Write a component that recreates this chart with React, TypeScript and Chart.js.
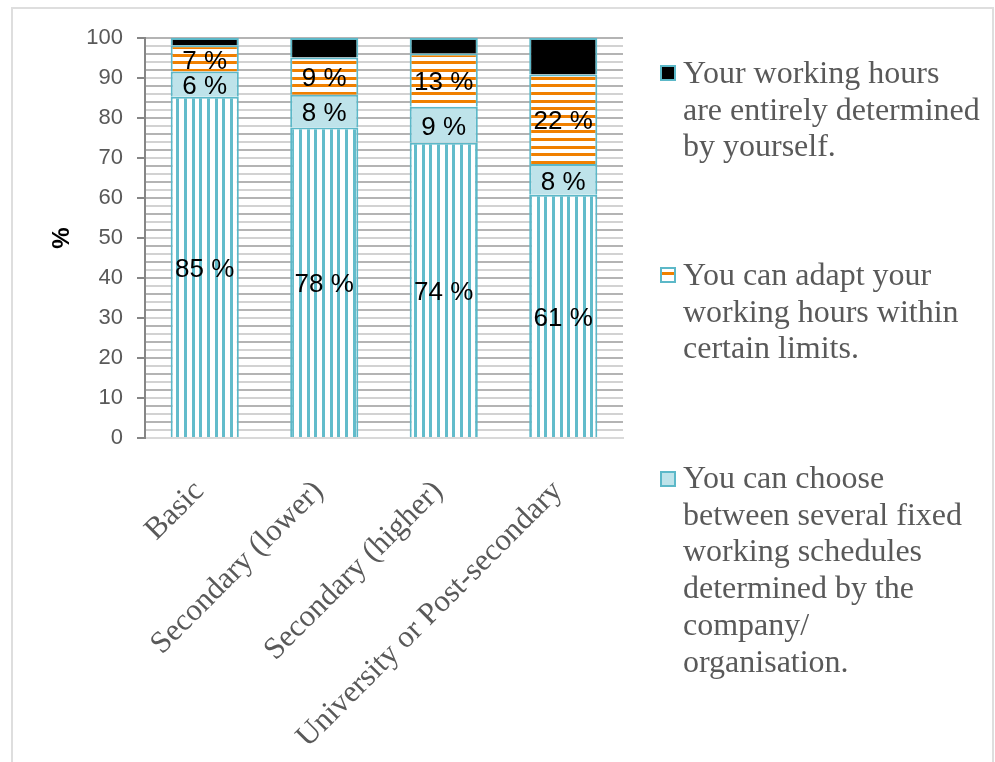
import React, { useEffect, useRef } from 'react';
import { Chart, registerables } from 'chart.js';

Chart.register(...registerables);

// ---- data ----
const categories = ['Basic', 'Secondary (lower)', 'Secondary (higher)', 'University or Post-secondary'];
const fixedHours = [85.3, 77.6, 73.8, 60.8];
const chooseSchedules = [6.3, 8.2, 9.0, 7.7];
const adaptHours = [6.6, 9.3, 13.3, 22.4];
const ownHours = [1.8, 4.9, 3.9, 9.1];
const seriesNames = [
  'Fixed working hours',
  'You can choose between several fixed working schedules determined by the company/ organisation.',
  'You can adapt your working hours within certain limits.',
  'Your working hours are entirely determined by yourself.',
];
const yMin = 0;
const yMax = 100;
const yLabelStep = 10;
const yPatternStep = 2;

const TEAL = '#62bccb';
const TEAL_BORDER = '#5cb8c8';
const ORANGE = '#f08000';
const LIGHT_BLUE = '#bee3ea';
const TEXT_GRAY = '#595959';

function stripePattern(vertical: boolean, color: string): CanvasPattern | string {
  const c = document.createElement('canvas');
  c.width = vertical ? 23 : 4;
  c.height = vertical ? 4 : 23;
  const g = c.getContext('2d');
  if (!g) return color;
  g.fillStyle = '#ffffff';
  g.fillRect(0, 0, c.width, c.height);
  g.fillStyle = color;
  [0, 8, 15].forEach((o) => {
    if (vertical) g.fillRect(o, 0, 3, c.height);
    else g.fillRect(0, o, c.width, 3);
  });
  const p = g.createPattern(c, 'repeat');
  return p || color;
}

const segLabels = {
  id: 'segLabels',
  afterDatasetsDraw(chart: any) {
    const ctx = chart.ctx;
    ctx.save();
    ctx.font = '26px "Liberation Sans", Arial, sans-serif';
    ctx.fillStyle = '#000000';
    ctx.textAlign = 'center';
    ctx.textBaseline = 'middle';
    [0, 1, 2].forEach((di) => {
      const meta = chart.getDatasetMeta(di);
      meta.data.forEach((bar: any, i: number) => {
        const v = chart.data.datasets[di].data[i] as number;
        const { x, y, base } = bar.getProps(['x', 'y', 'base'], true);
        ctx.fillText(Math.round(v) + ' %', x, (y + base) / 2 + 3);
      });
    });
    ctx.restore();
  },
};

function LegendItem(props: { top: number; markerTop: number; marker: React.ReactNode; lines: string[] }) {
  return (
    <div style={{ position: 'absolute', left: 0, top: 0 }}>
      <div style={{ position: 'absolute', left: 660, top: props.markerTop }}>{props.marker}</div>
      <div
        style={{
          position: 'absolute',
          left: 683,
          top: props.top,
          fontFamily: '"Liberation Serif", "Times New Roman", serif',
          fontSize: 32,
          lineHeight: '36.7px',
          color: TEXT_GRAY,
          whiteSpace: 'nowrap',
        }}
      >
        {props.lines.map((l, i) => (
          <div key={i}>{l}</div>
        ))}
      </div>
    </div>
  );
}

export default function App() {
  const ref = useRef<HTMLCanvasElement>(null);

  useEffect(() => {
    document.body.style.overflow = 'hidden';
    const canvas = ref.current;
    if (!canvas) return;
    const vStripes = stripePattern(true, TEAL);
    const hStripes = stripePattern(false, ORANGE);
    const chart = new Chart(canvas, {
      type: 'bar',
      data: {
        labels: categories,
        datasets: [
          { label: seriesNames[0], data: fixedHours, backgroundColor: vStripes as any, borderColor: TEAL_BORDER, borderWidth: 2 },
          { label: seriesNames[1], data: chooseSchedules, backgroundColor: LIGHT_BLUE, borderColor: TEAL_BORDER, borderWidth: 2 },
          { label: seriesNames[2], data: adaptHours, backgroundColor: hStripes as any, borderColor: TEAL_BORDER, borderWidth: 2 },
          { label: seriesNames[3], data: ownHours, backgroundColor: '#000000', borderColor: TEAL_BORDER, borderWidth: 2 },
        ],
      },
      options: {
        animation: false,
        responsive: true,
        maintainAspectRatio: false,
        datasets: { bar: { barPercentage: 0.57, categoryPercentage: 1 } },
        layout: { padding: { left: 44, top: 38, right: 372, bottom: 0 } },
        plugins: { legend: { display: false }, tooltip: { enabled: false } },
        scales: {
          x: {
            stacked: true,
            grid: { display: false, drawTicks: false },
            border: { display: true, color: '#d9d9d9', width: 2 },
            ticks: {
              autoSkip: false,
              minRotation: 45,
              maxRotation: 45,
              padding: 30,
              color: TEXT_GRAY,
              font: { family: '"Liberation Serif", "Times New Roman", serif', size: 31 },
              callback: (_v: any, i: number) => categories[i] + ' ',
            },
            afterFit: (scale: any) => {
              scale.height = 324;
            },
          },
          y: {
            stacked: true,
            min: yMin,
            max: yMax,
            grid: {
              color: (c: any) => (c.tick && c.tick.value % 4 === 0 ? '#b4b4b4' : '#d2d2d2'),
              lineWidth: 2,
              drawTicks: true,
              tickLength: 8,
              tickWidth: 2,
              tickColor: (c: any) => (c.tick && c.tick.value % yLabelStep === 0 ? '#868686' : 'rgba(0,0,0,0)'),
            },
            border: { display: true, color: '#868686', width: 2 },
            ticks: {
              stepSize: yPatternStep,
              autoSkip: false,
              padding: 14,
              color: TEXT_GRAY,
              font: { family: '"Liberation Sans", Arial, sans-serif', size: 22 },
              callback: (v: any) => (Number(v) % yLabelStep === 0 ? String(v) : ''),
            },
            title: {
              display: true,
              text: '%',
              color: '#000000',
              font: { family: '"Liberation Sans", Arial, sans-serif', size: 24, weight: 'bold' },
            },
            afterFit: (scale: any) => {
              scale.width = 101;
            },
          },
        },
      },
      plugins: [segLabels],
    });
    return () => chart.destroy();
  }, []);

  const box = (extra: React.CSSProperties) => ({
    width: 16,
    height: 16,
    boxSizing: 'border-box' as const,
    border: '2px solid ' + TEAL_BORDER,
    ...extra,
  });

  return (
    <div style={{ position: 'absolute', left: 0, top: 0, width: 995, height: 762, overflow: 'hidden', background: '#fff' }}>
      <div
        style={{
          position: 'absolute',
          left: 11,
          top: 7,
          width: 983,
          height: 755,
          boxSizing: 'border-box',
          borderTop: '2px solid #dedede',
          borderLeft: '2px solid #dedede',
          borderRight: '2px solid #dedede',
        }}
      />
      <div style={{ position: 'absolute', left: 0, top: 0, width: 995, height: 762 }}>
        <canvas ref={ref} />
      </div>
      <LegendItem
        top={54}
        markerTop={65}
        marker={<div style={box({ background: '#000' })} />}
        lines={['Your working hours', 'are entirely determined', 'by yourself.']}
      />
      <LegendItem
        top={256}
        markerTop={267}
        marker={
          <div style={box({ background: '#fff', position: 'relative' })}>
            <div style={{ position: 'absolute', left: 0, right: 0, top: 3, height: 3, background: ORANGE }} />
          </div>
        }
        lines={['You can adapt your', 'working hours within', 'certain limits.']}
      />
      <LegendItem
        top={459}
        markerTop={471}
        marker={<div style={box({ background: LIGHT_BLUE })} />}
        lines={['You can choose', 'between several fixed', 'working schedules', 'determined by the', 'company/', 'organisation.']}
      />
    </div>
  );
}
